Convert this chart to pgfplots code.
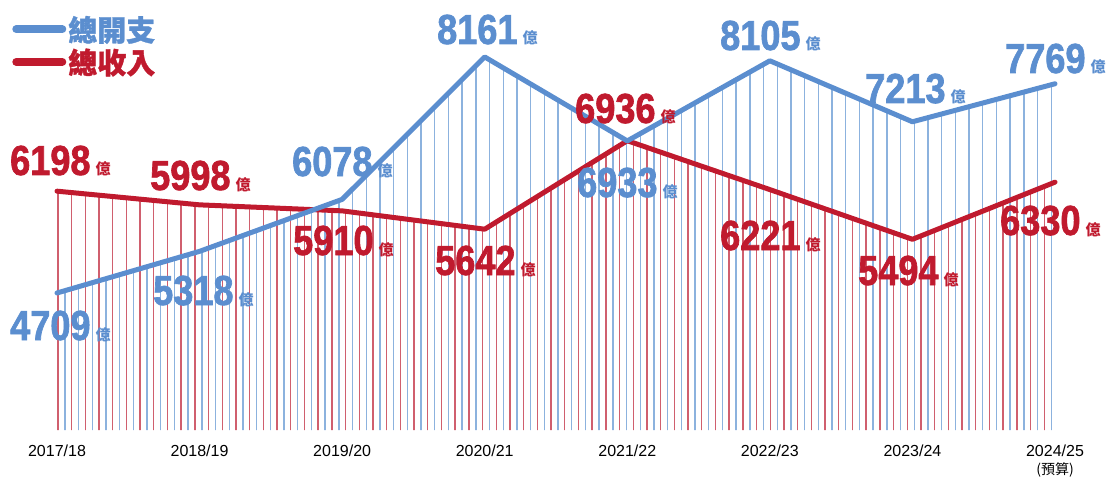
\documentclass[border=0pt]{standalone}
\usepackage{fontspec}
\setmainfont{Liberation Sans}
\newfontfamily\cjk{Noto Sans CJK TC}
\newfontfamily\cjkheavy{Noto Sans CJK TC}[FakeBold=1.2]
\newfontfamily\numfont{Liberation Sans}[FakeStretch=0.86, FakeBold=1.6]
\usepackage{pgfplots}
\pgfplotsset{compat=1.18}
\usetikzlibrary{patterns.meta}
\definecolor{cblue}{RGB}{91,142,207}
\definecolor{cred}{RGB}{192,26,46}
\definecolor{pblue}{RGB}{140,178,222}
\definecolor{pred}{RGB}{208,95,110}
\newcommand{\lbl}[4]{\node[anchor=base west, inner sep=0pt, text=#1] at (#2pt,#3pt)
  {\numfont\bfseries\fontsize{42}{42}\selectfont #4\hspace{5pt}\cjk\bfseries\fontsize{15}{15}\selectfont 億};}
\begin{document}
\begin{tikzpicture}
\begin{axis}[
  at={(0,0)}, anchor=south west,
  scale only axis, width=998pt, height=430pt,
  xmin=0, xmax=7, ymin=2705, ymax=8994,
  axis line style={draw=none},
  major tick length=0pt,
  ytick=\empty,
  xtick={0,...,7},
  xticklabels={2017/18,2018/19,2019/20,2020/21,2021/22,2022/23,2023/24,{2024/25\\[1pt]{\cjk\fontsize{14}{14}\selectfont(預算)}}},
  xticklabel style={align=center, font=\fontsize{16}{17}\selectfont, anchor=north, yshift=-11pt},
  clip=false,
  reverse legend,
  legend style={at={(-0.045,0.968)}, anchor=north west, draw=none, fill=none,
    font=\cjkheavy\bfseries\fontsize{29}{31}\selectfont, row sep=2pt, inner sep=0pt},
  legend cell align=left,
  legend image code/.code={\draw[#1, line width=8pt, line cap=round] (4pt,0pt) -- (50pt,0pt); \path[draw=none] (0pt,0pt) -- (54pt,0pt);},
]
% hatched areas under each line
\addplot[draw=none, forget plot, pattern={Lines[angle=90, distance=13.7pt, line width=1.4pt, xshift=3pt]}, pattern color=pred]
  coordinates {(0,2705) (0,6198) (1,5998) (2,5910) (3,5642) (4,6936) (5,6221) (6,5494) (7,6330) (7,2705)};
\addplot[draw=none, forget plot, pattern={Lines[angle=90, distance=13.7pt, line width=1.4pt, xshift=10pt]}, pattern color=pblue]
  coordinates {(0,2705) (0,4709) (1,5318) (2,6078) (3,8161) (4,6933) (5,8105) (6,7213) (7,7769) (7,2705)};
% lines
\addplot[cred, line width=5pt, line join=round, line cap=round]
  coordinates {(0,6198) (1,5998) (2,5910) (3,5642) (4,6936) (5,6221) (6,5494) (7,6330)};
\addlegendentry{\textcolor{cred}{總收入}}
\addplot[cblue, line width=5pt, line join=round, line cap=round]
  coordinates {(0,4709) (1,5318) (2,6078) (3,8161) (4,6933) (5,8105) (6,7213) (7,7769)};
\addlegendentry{\textcolor{cblue}{總開支}}
\end{axis}
% value labels
\lbl{cblue}{-47}{90}{4709}
\lbl{cblue}{96}{125}{5318}
\lbl{cblue}{235}{254}{6078}
\lbl{cblue}{380}{386}{8161}
\lbl{cblue}{520}{233}{6933}
\lbl{cblue}{663}{380}{8105}
\lbl{cblue}{808}{327}{7213}
\lbl{cblue}{948}{357}{7769}
\lbl{cred}{-47}{255}{6198}
\lbl{cred}{93}{240}{5998}
\lbl{cred}{236}{175}{5910}
\lbl{cred}{378}{155}{5642}
\lbl{cred}{518}{307}{6936}
\lbl{cred}{663}{180}{6221}
\lbl{cred}{801}{145}{5494}
\lbl{cred}{943}{195}{6330}
\pgfresetboundingbox
\useasboundingbox (-57pt,-47pt) rectangle (1050pt,430pt);
\end{tikzpicture}
\end{document}
